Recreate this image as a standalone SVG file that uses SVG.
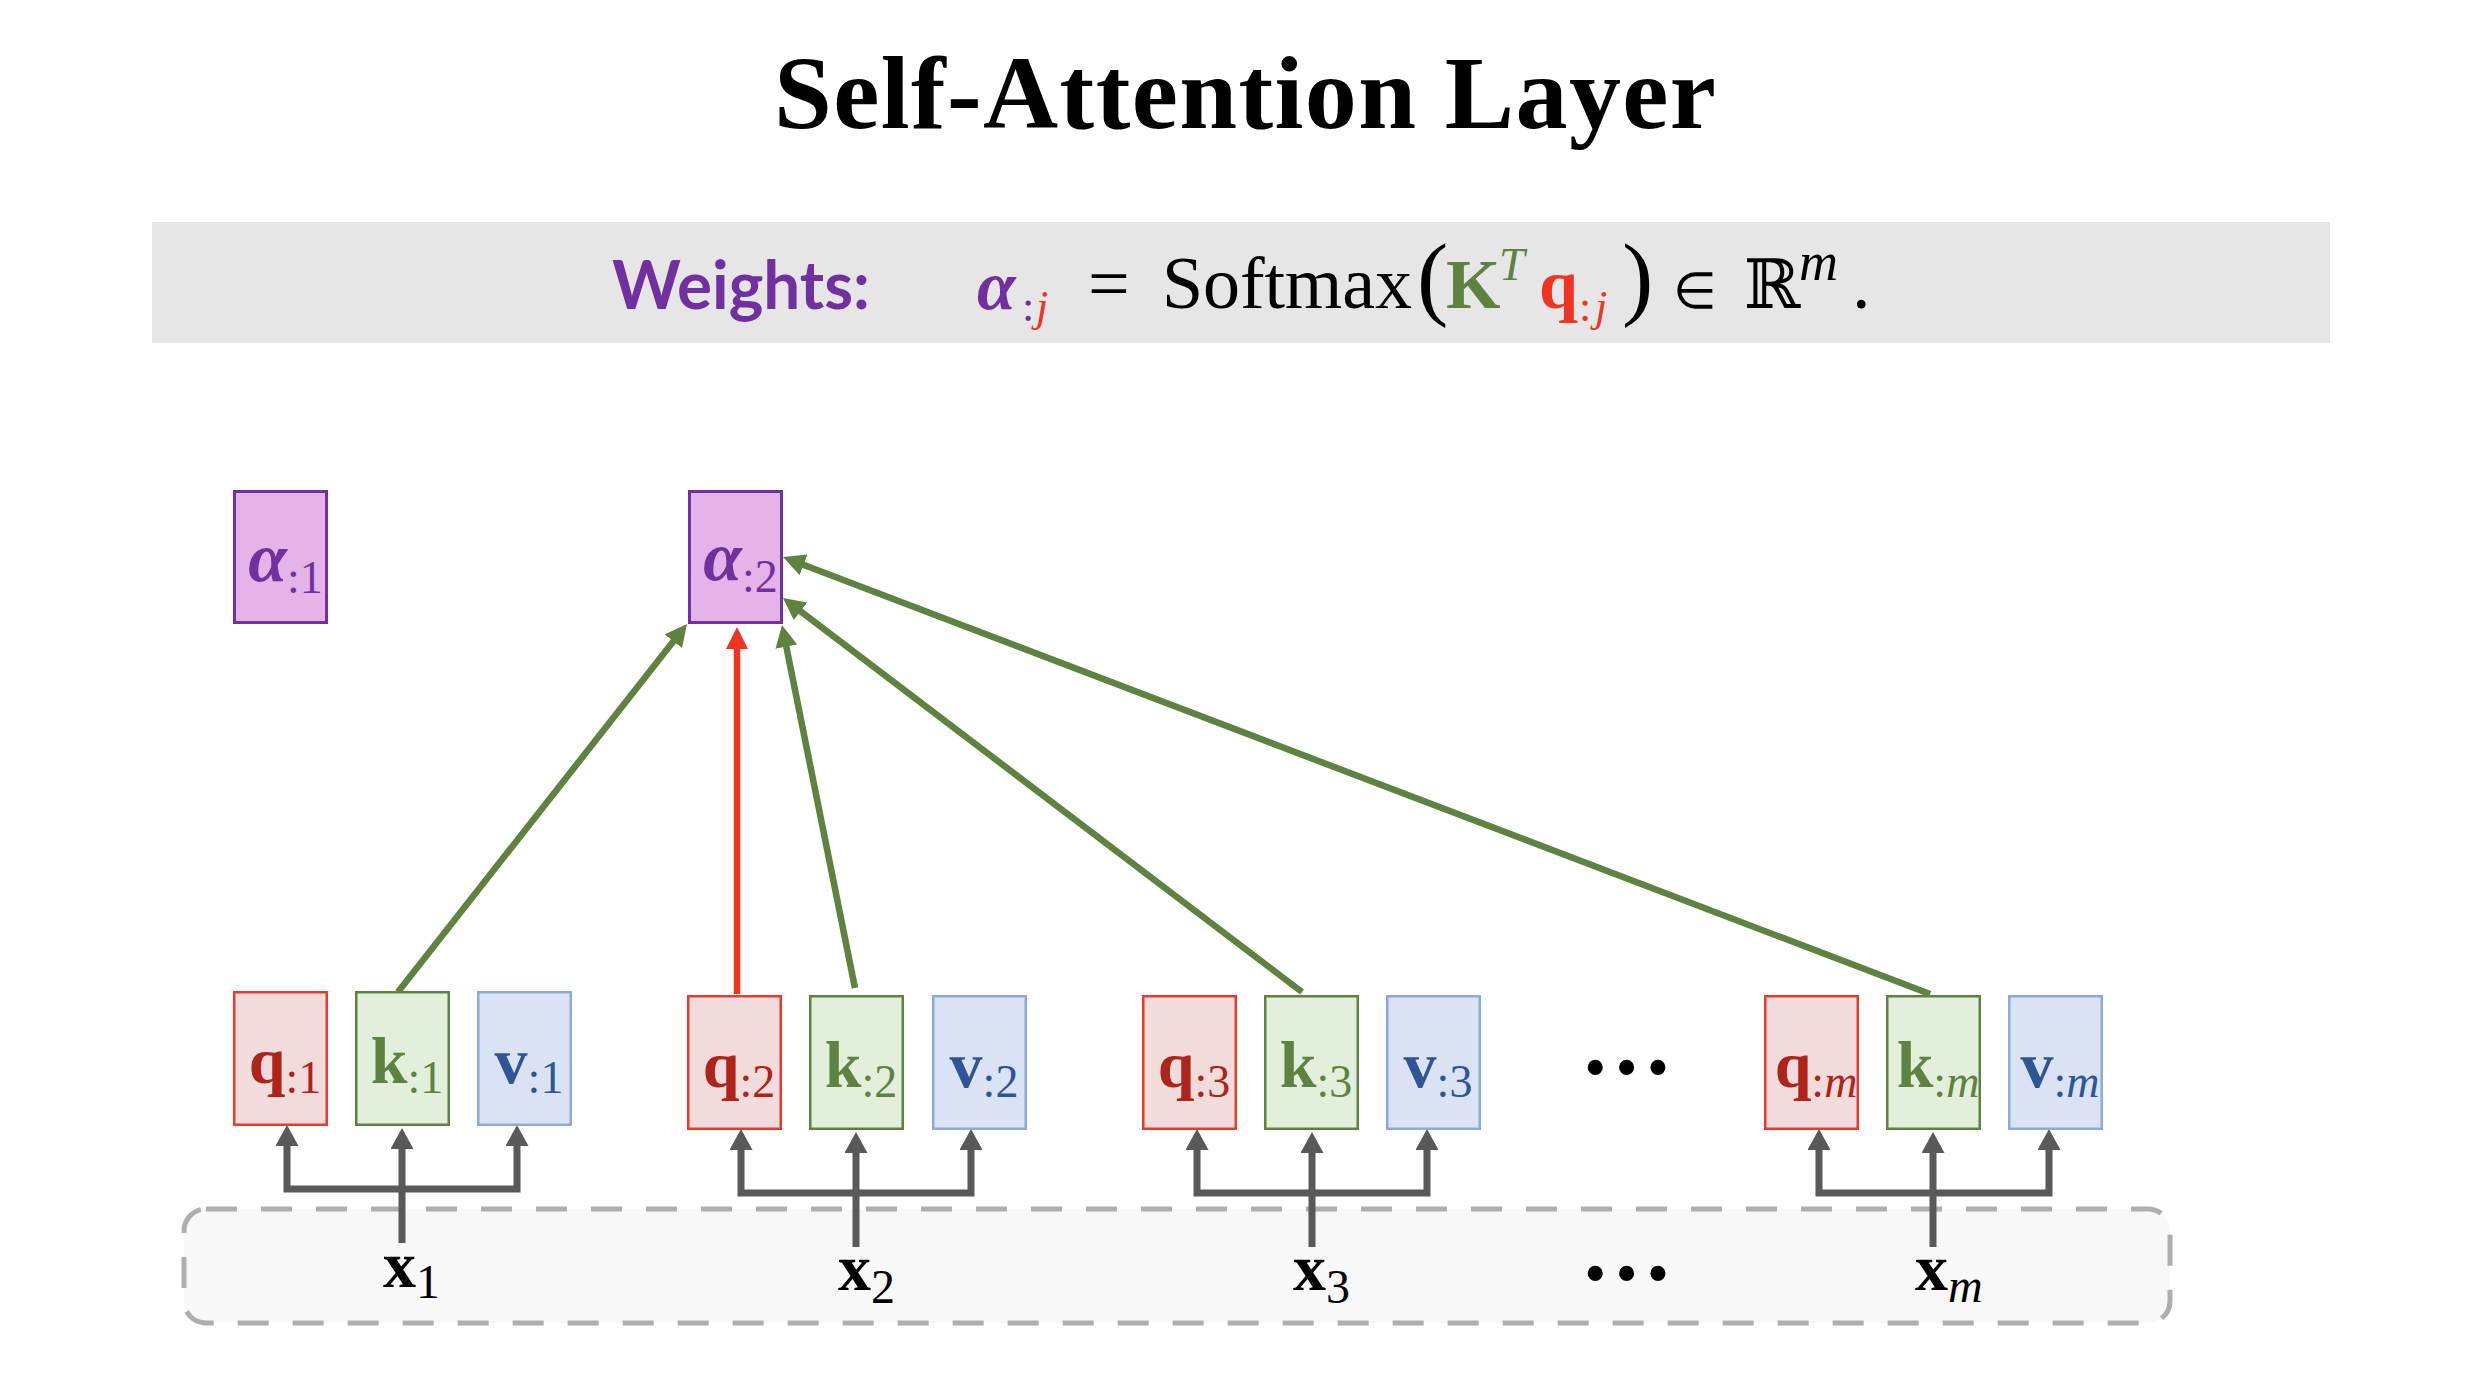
<svg xmlns="http://www.w3.org/2000/svg" width="2480" height="1384" viewBox="0 0 2480 1384">
<defs>
<style>
.serif{font-family:"Liberation Serif","DejaVu Serif",serif}
.math{font-family:"DejaVu Serif","Liberation Serif",serif}
.b{font-weight:bold}
.i{font-style:italic}
.qbox{fill:#f2dcdb;stroke:#ea3a2c;stroke-width:2.5}
.kbox{fill:#e2efda;stroke:#5e8240;stroke-width:2.5}
.vbox{fill:#dae3f3;stroke:#8eaadb;stroke-width:2.5}
.abox{fill:#e4b4e8;stroke:#7030a0;stroke-width:3}
.qt{fill:#b0231a}
.kt{fill:#5e8240}
.vt{fill:#2f5597}
.at{fill:#7030a0}
.lbl{font-family:"Liberation Serif","DejaVu Serif",serif;font-size:66px;font-weight:bold;text-anchor:middle}
.sub{font-size:46px;font-weight:normal}
.green{fill:none;stroke:#5e8240;stroke-width:6.5}
.red{fill:none;stroke:#ee3524;stroke-width:6.5}
.bus{fill:none;stroke:#595959;stroke-width:7;stroke-linejoin:miter}
.xl{font-family:"Liberation Serif","DejaVu Serif",serif;font-size:66px;font-weight:bold;fill:#000}
.xs{font-size:48px;font-weight:normal}
</style>
<marker id="hg" viewBox="0 0 22 22" markerWidth="22" markerHeight="22" refX="1" refY="11" markerUnits="userSpaceOnUse" orient="auto"><path d="M0,0 L22,11 L0,22 Z" fill="#5e8240"/></marker>
<marker id="hr" viewBox="0 0 22 22" markerWidth="22" markerHeight="22" refX="1" refY="11" markerUnits="userSpaceOnUse" orient="auto"><path d="M0,0 L22,11 L0,22 Z" fill="#ee3524"/></marker>
<marker id="hk" viewBox="0 0 21 23" markerWidth="21" markerHeight="23" refX="1" refY="11.5" markerUnits="userSpaceOnUse" orient="auto-start-reverse"><path d="M0,0 L21,11.5 L0,23 Z" fill="#595959"/></marker>
</defs>
<rect width="2480" height="1384" fill="#ffffff"/>

<g id="title">
<text x="1245" y="128" class="serif b" font-size="104" text-anchor="middle" textLength="942" fill="#000">Self-Attention Layer</text>
</g>

<g id="formula">
<rect x="152" y="222" width="2178" height="121" fill="#e6e6e6"/>
<text x="612" y="309" font-family="Lato,'Liberation Sans',sans-serif" font-weight="bold" font-size="67" fill="#7030a0" textLength="258" lengthAdjust="spacingAndGlyphs">Weights:</text>
<text x="977" y="309" class="serif b i" font-size="70" fill="#7030a0">α</text>
<text x="1022" y="321" class="serif" font-size="44" fill="#7030a0">:</text>
<text x="1036" y="321" class="serif i" font-size="44" fill="#ee3524">j</text>
<text x="1088" y="308" class="serif" font-size="74" fill="#000">=</text>
<text x="1162" y="308" class="serif" font-size="74" fill="#000" textLength="250">Softmax</text>
<text x="1417" y="308" class="serif" font-size="94" fill="#000">(</text>
<text x="1446" y="308" class="serif b" font-size="70" fill="#5e8240">K</text>
<text x="1499" y="280" class="serif i" font-size="46" fill="#5e8240">T</text>
<text x="1539" y="308" class="serif b" font-size="70" fill="#ee3524">q</text>
<text x="1579" y="321" class="serif" font-size="44" fill="#ee3524">:</text>
<text x="1595" y="321" class="serif i" font-size="44" fill="#ee3524">j</text>
<text x="1622" y="308" class="serif" font-size="94" fill="#000">)</text>
<text x="1695" y="308" font-family="'DejaVu Sans',sans-serif" font-size="50" fill="#000" text-anchor="middle">∈</text>
<text x="1744" y="308" class="math" font-size="68" fill="#000">ℝ</text>
<text x="1799" y="280" class="serif i" font-size="54" fill="#000">m</text>
<text x="1852" y="308" class="serif" font-size="74" fill="#000">.</text>
</g>

<g id="input-container">
<rect x="184" y="1209" width="1986" height="114" rx="22" ry="22" fill="#f8f8f8" stroke="#aeaeae" stroke-width="5" stroke-dasharray="31 24"/>
</g>

<g id="connectors">
<path class="green" d="M398,992 L674,640.5" marker-end="url(#hg)"/>
<path class="red" d="M737,994 L737,648" marker-end="url(#hr)"/>
<path class="green" d="M855,988 L786.1,645.6" marker-end="url(#hg)"/>
<path class="green" d="M1302,992 L799.7,610.7" marker-end="url(#hg)"/>
<path class="green" d="M1930,994 L802.6,564.5" marker-end="url(#hg)"/>

<path class="bus" d="M287,1145 V1189 H517 V1145" marker-start="url(#hk)" marker-end="url(#hk)"/>
<path class="bus" d="M402,1243 V1148" marker-end="url(#hk)"/>
<path class="bus" d="M741,1149 V1193 H971 V1149" marker-start="url(#hk)" marker-end="url(#hk)"/>
<path class="bus" d="M856,1247 V1152" marker-end="url(#hk)"/>
<path class="bus" d="M1197,1149 V1193 H1427 V1149" marker-start="url(#hk)" marker-end="url(#hk)"/>
<path class="bus" d="M1312,1247 V1152" marker-end="url(#hk)"/>
<path class="bus" d="M1819,1149 V1193 H2049 V1149" marker-start="url(#hk)" marker-end="url(#hk)"/>
<path class="bus" d="M1933,1247 V1152" marker-end="url(#hk)"/>
</g>

<g id="alpha1">
<rect class="abox" x="234.5" y="491.5" width="92" height="131"/>
<text x="285.5" y="581" class="serif b i at" font-size="70" text-anchor="middle">α<tspan class="sub" font-style="normal" font-size="44" dy="12">:1</tspan></text>
</g>
<g id="alpha2">
<rect class="abox" x="689.5" y="491.5" width="92" height="131"/>
<text x="740.5" y="580" class="serif b i at" font-size="70" text-anchor="middle">α<tspan class="sub" font-style="normal" font-size="44" dy="12">:2</tspan></text>
</g>

<g id="q1"><rect class="qbox" x="234.25" y="992.25" width="92.5" height="132.5"/><text class="lbl qt" x="285" y="1083">q<tspan class="sub" dy="10">:1</tspan></text></g>
<g id="k1"><rect class="kbox" x="356.25" y="992.25" width="92.5" height="132.5"/><text class="lbl kt" x="407" y="1083">k<tspan class="sub" dy="10">:1</tspan></text></g>
<g id="v1"><rect class="vbox" x="478.25" y="992.25" width="92.5" height="132.5"/><text class="lbl vt" x="529" y="1083">v<tspan class="sub" dy="10">:1</tspan></text></g>

<g id="q2"><rect class="qbox" x="688.25" y="996.25" width="92.5" height="132.5"/><text class="lbl qt" x="739" y="1087">q<tspan class="sub" dy="10">:2</tspan></text></g>
<g id="k2"><rect class="kbox" x="810.25" y="996.25" width="92.5" height="132.5"/><text class="lbl kt" x="861" y="1087">k<tspan class="sub" dy="10">:2</tspan></text></g>
<g id="v2"><rect class="vbox" x="933.25" y="996.25" width="92.5" height="132.5"/><text class="lbl vt" x="984" y="1087">v<tspan class="sub" dy="10">:2</tspan></text></g>

<g id="q3"><rect class="qbox" x="1143.25" y="996.25" width="92.5" height="132.5"/><text class="lbl qt" x="1194" y="1087">q<tspan class="sub" dy="10">:3</tspan></text></g>
<g id="k3"><rect class="kbox" x="1265.25" y="996.25" width="92.5" height="132.5"/><text class="lbl kt" x="1316" y="1087">k<tspan class="sub" dy="10">:3</tspan></text></g>
<g id="v3"><rect class="vbox" x="1387.25" y="996.25" width="92.5" height="132.5"/><text class="lbl vt" x="1438" y="1087">v<tspan class="sub" dy="10">:3</tspan></text></g>

<g id="qm"><rect class="qbox" x="1765.25" y="996.25" width="92.5" height="132.5"/><text class="lbl qt" x="1816" y="1087">q<tspan class="sub" dy="10">:<tspan font-style="italic">m</tspan></tspan></text></g>
<g id="km"><rect class="kbox" x="1887.25" y="996.25" width="92.5" height="132.5"/><text class="lbl kt" x="1938" y="1087">k<tspan class="sub" dy="10">:<tspan font-style="italic">m</tspan></tspan></text></g>
<g id="vm"><rect class="vbox" x="2009.25" y="996.25" width="92.5" height="132.5"/><text class="lbl vt" x="2060" y="1087">v<tspan class="sub" dy="10">:<tspan font-style="italic">m</tspan></tspan></text></g>

<g id="dots-top"><text x="1580" y="1074" class="serif b" font-size="93" fill="#000">…</text></g>
<g id="dots-bottom"><text x="1580" y="1280" class="serif b" font-size="93" fill="#000">…</text></g>

<g id="x1"><text class="xl" x="383" y="1287">x<tspan class="xs" dy="11">1</tspan></text></g>
<g id="x2"><text class="xl" x="838" y="1290">x<tspan class="xs" dy="13">2</tspan></text></g>
<g id="x3"><text class="xl" x="1293" y="1290">x<tspan class="xs" dy="13">3</tspan></text></g>
<g id="xm"><text class="xl" x="1915" y="1290">x<tspan class="xs" font-style="italic" dy="12">m</tspan></text></g>
</svg>
